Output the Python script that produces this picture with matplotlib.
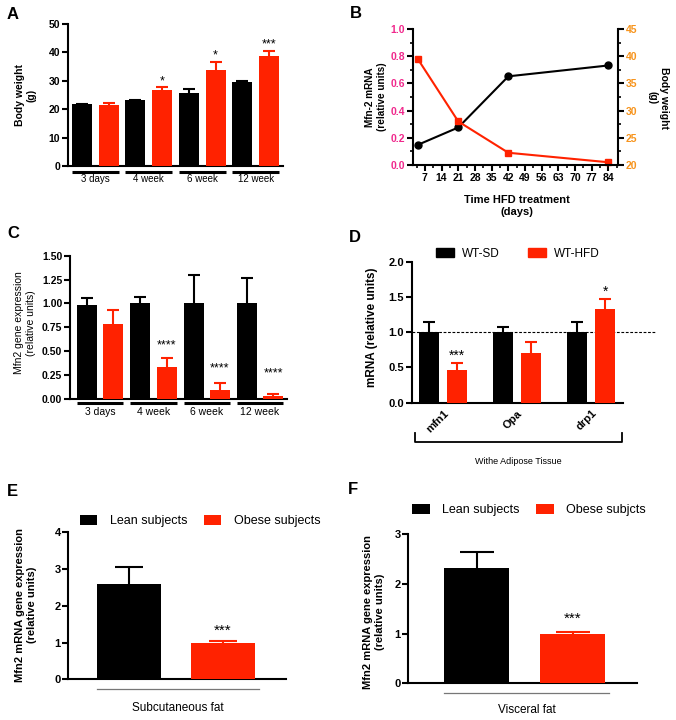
import matplotlib
matplotlib.use('Agg')
import matplotlib.pyplot as plt
import matplotlib.transforms as mtransforms
from matplotlib.ticker import MultipleLocator, FormatStrFormatter
from matplotlib.patches import Patch
import numpy as np

plt.rcParams['font.family'] = ['Liberation Sans', 'DejaVu Sans']

# ---------------- data ----------------
# Panel A: body weight (g)
a_groups = ['3 days', '4 week', '6 week', '12 week']
a_sd_mean = [21.8, 23.1, 25.8, 29.6]
a_sd_err = [0.1, 0.3, 1.2, 0.4]
a_hfd_mean = [21.5, 26.6, 33.9, 38.6]
a_hfd_err = [0.8, 1.1, 2.7, 1.9]
a_stars = ['', '*', '*', '***']

# Panel B: time course
b_days = [4, 21, 42, 84]
b_mfn2 = [0.78, 0.32, 0.09, 0.02]
b_weight = [23.7, 26.9, 36.3, 38.3]
b_xticks = [7, 14, 21, 28, 35, 42, 49, 56, 63, 70, 77, 84]

# Panel C: Mfn2 gene expression
c_groups = ['3 days', '4 week', '6 week', '12 week']
c_sd_mean = [0.98, 1.01, 1.01, 1.01]
c_sd_err = [0.08, 0.06, 0.29, 0.26]
c_hfd_mean = [0.785, 0.335, 0.098, 0.035]
c_hfd_err = [0.143, 0.09, 0.069, 0.017]
c_stars = ['', '****', '****', '****']

# Panel D: mRNA in white adipose tissue
d_genes = ['mfn1', 'Opa', 'drp1']
d_sd_mean = [1.0, 1.0, 1.0]
d_sd_err = [0.15, 0.08, 0.15]
d_hfd_mean = [0.47, 0.71, 1.33]
d_hfd_err = [0.10, 0.15, 0.14]
d_stars = ['***', '', '*']

# Panel E: subcutaneous fat
e_groups = ['Lean subjects', 'Obese subjects']
e_mean = [2.60, 0.98]
e_err = [0.45, 0.05]

# Panel F: visceral fat
f_groups = ['Lean subjects', 'Obese subjcts']
f_mean = [2.31, 1.00]
f_err = [0.33, 0.04]

# ---------------- style ----------------
W, H = 676, 720
RED = '#FF2200'
PINK = '#F0288C'
ORANGE = '#F7941D'

fig = plt.figure(figsize=(W / 100, H / 100), dpi=100)


def px_axes(l, r, t, b):
    return fig.add_axes([l / W, 1 - b / H, (r - l) / W, (b - t) / H])


def ftext(x, y, s, **kw):
    fig.text(x / W, 1 - y / H, s, **kw)


def bold_ticks(ax):
    for lbl in ax.get_yticklabels() + ax.get_xticklabels():
        lbl.set_fontweight('bold')


def style(ax, size=7.5, bold=True):
    for s in ['top', 'right']:
        ax.spines[s].set_visible(False)
    for s in ['left', 'bottom']:
        ax.spines[s].set_linewidth(1.5)
    ax.tick_params(width=1.5, length=4, labelsize=size, pad=1.5)
    if bold:
        bold_ticks(ax)


def panel_letter(x, y, s):
    ftext(x, y, s, fontsize=12, fontweight='bold', ha='center', va='center')


def ylab(x, y, s, bold=True, size=7.5, rot=90):
    ftext(x, y, s, fontsize=size, fontweight='bold' if bold else 'normal',
          ha='center', va='center', rotation=rot, multialignment='center',
          linespacing=1.15)


def upper_err(ax, x, mean, err, color, cap):
    x = np.atleast_1d(x)
    mean = np.atleast_1d(mean)
    err = np.atleast_1d(err)
    top = mean + err
    ax.vlines(x, mean, top, color=color, lw=1.5, zorder=2)
    ax.plot(x, top, ls='none', marker='_', markersize=2 * cap,
            markeredgewidth=1.5, color=color, zorder=2)


def grouped(ax, sd_mean, sd_err, hfd_mean, hfd_err, off, width, cap):
    x = np.arange(len(sd_mean))
    ax.bar(x - off, sd_mean, width, color='black', zorder=3)
    ax.bar(x + off, hfd_mean, width, color=RED, zorder=3)
    upper_err(ax, x - off, sd_mean, sd_err, 'black', cap)
    upper_err(ax, x + off, hfd_mean, hfd_err, RED, cap)
    return x


def group_underlines(ax, groups, off, width, yline, ytext, size):
    tr = mtransforms.blended_transform_factory(ax.transData, ax.transAxes)
    for i, g in enumerate(groups):
        ax.plot([i - off - width / 2, i + off + width / 2], [yline, yline],
                color='black', lw=2.2, transform=tr, clip_on=False,
                solid_capstyle='butt')
        ax.text(i, ytext, g, transform=tr, ha='center', va='center', fontsize=size)


# ---------------- Panel A ----------------
axA = px_axes(68, 283, 24, 166)
grouped(axA, a_sd_mean, a_sd_err, a_hfd_mean, a_hfd_err, 0.25, 0.375, 4)
axA.set_xlim(-0.51, 3.51)
axA.set_ylim(0, 50)
axA.set_yticks(np.arange(0, 51, 10))
axA.set_xticks([])
style(axA)
for i, s in enumerate(a_stars):
    if s:
        axA.text(i + 0.25, a_hfd_mean[i] + a_hfd_err[i] + 2.2, s, ha='center',
                 va='center', fontsize=9)
group_underlines(axA, a_groups, 0.25, 0.375, -0.042, -0.094, 7)
panel_letter(12.5, 14.5, 'A')
ylab(25.5, 95, 'Body weight\n(g)')

# ---------------- Panel B ----------------
axB = px_axes(413, 618, 29, 165)
axB2 = axB.twinx()
axB.set_zorder(axB2.get_zorder() + 1)
axB.patch.set_visible(False)
axB.plot(b_days, b_mfn2, color=RED, marker='s', ms=5, lw=1.5, clip_on=False)
axB2.plot(b_days, b_weight, color='black', marker='o', ms=5, lw=1.5, clip_on=False)
axB.set_xlim(2, 88)
axB.set_ylim(0, 1.0)
axB2.set_ylim(20, 45)
axB.set_xticks(b_xticks)
axB.xaxis.set_minor_locator(MultipleLocator(3.5))
axB.yaxis.set_major_locator(MultipleLocator(0.2))
axB.yaxis.set_minor_locator(MultipleLocator(0.1))
axB2.yaxis.set_major_locator(MultipleLocator(5))
axB2.yaxis.set_minor_locator(MultipleLocator(2.5))
axB.yaxis.set_major_formatter(FormatStrFormatter('%.1f'))
for s in ['top', 'right']:
    axB.spines[s].set_visible(False)
for s in ['top', 'left', 'bottom']:
    axB2.spines[s].set_visible(False)
for s in ['left', 'bottom']:
    axB.spines[s].set_linewidth(1.5)
axB2.spines['right'].set_linewidth(1.5)
axB.tick_params(which='major', width=1.5, length=4, labelsize=7.5, pad=1.5)
axB.tick_params(which='minor', width=1.2, length=2.5)
axB2.tick_params(which='major', width=1.5, length=4, labelsize=7.5, pad=1.5,
                 labelcolor=ORANGE)
axB2.tick_params(which='minor', width=1.2, length=2.5)
axB.tick_params(axis='y', labelcolor=PINK)
bold_ticks(axB)
bold_ticks(axB2)
panel_letter(356, 14, 'B')
ylab(376, 97, 'Mfn-2 mRNA\n(relative units)', size=7.2)
ylab(658, 98, 'Body weight\n(g)', rot=-90)
ftext(517, 206, 'Time HFD treatment\n(days)', fontsize=8, fontweight='bold',
      ha='center', va='center', multialignment='center', linespacing=1.15)

# ---------------- Panel C ----------------
axC = px_axes(70, 287, 255.7, 399)
grouped(axC, c_sd_mean, c_sd_err, c_hfd_mean, c_hfd_err, 0.247, 0.375, 4)
axC.set_xlim(-0.57, 3.51)
axC.set_ylim(0, 1.5)
axC.set_yticks(np.arange(0, 1.51, 0.25))
axC.yaxis.set_major_formatter(FormatStrFormatter('%.2f'))
axC.set_xticks([])
style(axC)
c_star_y = [None, 0.565, 0.32, 0.27]
for i, s in enumerate(c_stars):
    if s:
        axC.text(i + 0.247, c_star_y[i], s, ha='center', va='center', fontsize=9)
group_underlines(axC, c_groups, 0.247, 0.375, -0.026, -0.09, 7.5)
panel_letter(13, 234, 'C')
ylab(25, 323, 'Mfn2 gene expression\n(relative units)', bold=False)

# ---------------- Panel D ----------------
axD = px_axes(411.7, 623, 261.7, 402.7)
xd = grouped(axD, d_sd_mean, d_sd_err, d_hfd_mean, d_hfd_err, 0.19, 0.27, 4)
axD.set_xlim(-0.424, 2.43)
axD.set_ylim(0, 2.0)
axD.yaxis.set_major_locator(MultipleLocator(0.5))
axD.yaxis.set_major_formatter(FormatStrFormatter('%.1f'))
axD.set_xticks(xd)
axD.set_xticklabels(d_genes, rotation=45, ha='right', va='top',
                    rotation_mode='anchor')
style(axD, size=8)
axD.tick_params(axis='x', length=0, pad=4)
trD = mtransforms.blended_transform_factory(axD.transAxes, axD.transData)
axD.plot([0, (655 - 411.7) / 211.3], [1.0, 1.0], ls=(0, (2.5, 1.5)), color='black',
         lw=0.8, transform=trD, clip_on=False, zorder=1)
for i, s in enumerate(d_stars):
    if s:
        axD.text(i + 0.19, d_hfd_mean[i] + d_hfd_err[i] + 0.1, s, ha='center',
                 va='center', fontsize=10)
trDa = axD.transAxes
axD.plot([0.016, 0.016, 0.995, 0.995], [-0.215, -0.279, -0.279, -0.215],
         color='black', lw=1.3, transform=trDa, clip_on=False)
axD.text(0.503, -0.42, 'Withe Adipose Tissue', transform=trDa, ha='center',
         va='center', fontsize=6.5)
hD = [Patch(color='black'), Patch(color=RED)]
axD.legend(hD, ['WT-SD', 'WT-HFD'], ncol=2, loc='center',
           bbox_to_anchor=(518 / W, 1 - 254 / H), bbox_transform=fig.transFigure,
           frameon=False, fontsize=8.5, handlelength=1.5, handleheight=0.8,
           handletextpad=0.7, columnspacing=2.4, borderpad=0)
panel_letter(355, 237.5, 'D')
ylab(372, 327, 'mRNA (relative units)', size=8.5)


# ---------------- Panels E, F ----------------
def two_bar(ax, groups, mean, err, width, cap, xlim, ylim, star_off, uline,
            utext, text, legend_xy):
    colors = ['black', RED]
    handles = []
    for i in range(2):
        b = ax.bar(i, mean[i], width, color=colors[i], zorder=3)
        handles.append(b)
        upper_err(ax, i, mean[i], err[i], colors[i], cap)
    ax.set_xlim(*xlim)
    ax.set_ylim(*ylim)
    ax.yaxis.set_major_locator(MultipleLocator(1))
    ax.set_xticks([])
    style(ax, size=8)
    ax.text(1, mean[1] + err[1] + star_off, '***', ha='center', va='center',
            fontsize=11)
    tr = mtransforms.blended_transform_factory(ax.transData, ax.transAxes)
    ax.plot([-width / 2, 1 + width / 2 + 0.04], [uline, uline], color='#777777',
            lw=0.9, transform=tr, clip_on=False)
    ax.text(0.5 + 0.02, utext, text, transform=tr, ha='center', va='center',
            fontsize=8.5)
    ax.legend(handles, groups, ncol=2, loc='center',
              bbox_to_anchor=(legend_xy[0] / W, 1 - legend_xy[1] / H),
              bbox_transform=fig.transFigure, frameon=False, fontsize=9,
              handlelength=1.4, handleheight=0.8, handletextpad=1.0,
              columnspacing=1.3, borderpad=0)


axE = px_axes(68.3, 286, 532.3, 679.3)
two_bar(axE, e_groups, e_mean, e_err, 0.69, 10, (-0.646, 1.67), (0, 4), 0.28,
        -0.068, -0.195, 'Subcutaneous fat', (200, 521))
panel_letter(12, 491, 'E')
ylab(26, 605, 'Mfn2 mRNA gene expression\n(relative units)', size=8)

axF = px_axes(408.3, 636.7, 534, 683.3)
two_bar(axF, f_groups, f_mean, f_err, 0.68, 12, (-0.713, 1.666), (0, 3), 0.25,
        -0.063, -0.179, 'Visceral fat', (529, 510))
panel_letter(353, 489, 'F')
ylab(374, 612, 'Mfn2 mRNA gene expression\n(relative units)', size=8)

fig.savefig('out.png', dpi=100)
